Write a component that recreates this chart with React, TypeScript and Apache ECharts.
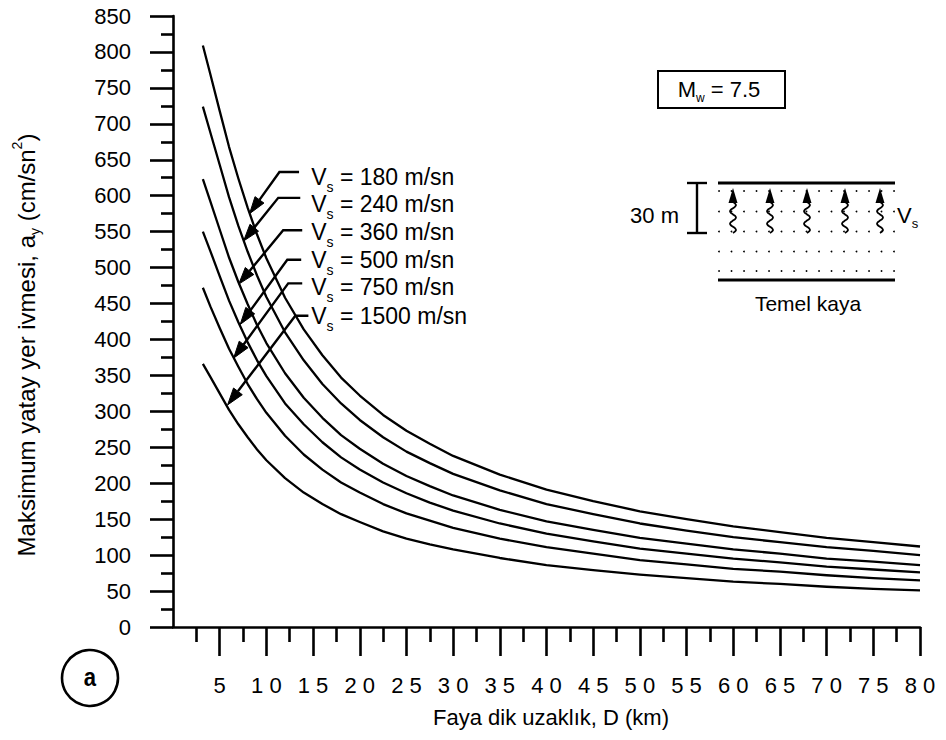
import React, { useEffect, useRef } from 'react';
import * as echarts from 'echarts';

// Distance to fault, D (km)
const distances = [3.2, 4, 5, 6, 7, 8, 9, 10, 12, 14, 16, 18, 20, 22.5, 25, 27.5, 30, 35, 40, 45, 50, 55, 60, 65, 70, 75, 80];
// Peak horizontal ground acceleration (cm/sn^2) for each Vs
const vs180 = [809, 769, 718, 668, 624, 583, 546, 513, 458, 414, 378, 347, 322, 295, 273, 255, 238, 212, 191, 175, 161, 150, 140, 132, 124, 118, 112];
const vs240 = [724, 688, 643, 598, 558, 522, 489, 459, 410, 371, 338, 311, 288, 264, 244, 228, 213, 190, 171, 157, 144, 134, 125, 118, 111, 106, 100];
const vs360 = [623, 592, 553, 514, 480, 449, 420, 395, 353, 319, 291, 267, 248, 227, 210, 196, 183, 163, 147, 135, 124, 116, 108, 102, 95, 91, 86];
const vs500 = [550, 523, 488, 454, 424, 396, 371, 349, 311, 282, 257, 236, 219, 201, 186, 173, 162, 144, 130, 119, 109, 102, 95, 90, 84, 80, 76];
const vs750 = [472, 446, 416, 387, 362, 338, 317, 298, 266, 240, 219, 201, 187, 171, 158, 148, 138, 123, 111, 102, 93, 87, 81, 77, 72, 68, 65];
const vs1500 = [366, 348, 325, 302, 282, 264, 247, 232, 207, 187, 171, 157, 146, 133, 123, 115, 108, 96, 86, 79, 73, 68, 63, 60, 56, 53, 51];

const seriesNames = ['180', '240', '360', '500', '750', '1500'];
const seriesValues = [vs180, vs240, vs360, vs500, vs750, vs1500];

const xTickValues = [5, 10, 15, 20, 25, 30, 35, 40, 45, 50, 55, 60, 65, 70, 75, 80];

// Annotation leaders (data coordinates): tip on curve, corner, horizontal segment
const annTipD = [8.2, 7.56, 7.04, 7.2, 6.49, 5.85];
const annTipA = [575, 537, 477, 421, 374, 309];
const annCornerD = [11.4, 11.27, 11.8, 12.24, 12.34, 13.1];
const annEndD = [13.5, 13.63, 13.84, 13.73, 13.84, 14.5];
const annSegA = [633, 597, 552, 511, 478, 433];
const annTextD = [14.8, 14.8, 14.8, 14.8, 14.8, 14.8];
const annTextA = [626, 588, 550, 511, 473, 432];

const FONT = "'Liberation Sans', Arial, Helvetica, sans-serif";

export default function App() {
  const ref = useRef<HTMLDivElement>(null);

  useEffect(() => {
    if (!ref.current) return;
    const chart = echarts.init(ref.current, null, { renderer: 'svg' });

    const series = seriesValues.map((vals, i) => ({
      name: seriesNames[i],
      type: 'line',
      data: distances.map((d, j) => [d, vals[j]]),
      showSymbol: false,
      smooth: false,
      lineStyle: { color: '#000', width: 2.3, join: 'round' },
      silent: true,
    }));

    const axisLineStyle = { color: '#000', width: 2.6 };

    chart.setOption({
      animation: false,
      backgroundColor: '#fff',
      textStyle: { fontFamily: FONT, color: '#000' },
      grid: { left: 173, right: 26, top: 16, bottom: 113, containLabel: false, outerBoundsMode: 'none' },
      xAxis: {
        type: 'value',
        min: 0,
        max: 80,
        interval: 5,
        axisLine: { show: true, onZero: false, lineStyle: axisLineStyle },
        axisTick: { show: true, inside: false, length: 29, lineStyle: axisLineStyle, customValues: xTickValues },
        minorTick: { show: true, splitNumber: 2, length: 15, lineStyle: axisLineStyle },
        axisLabel: {
          margin: 47,
          fontSize: 22,
          fontFamily: FONT,
          color: '#000',
          customValues: xTickValues,
          formatter: (v: number) => String(v).split('').join(' '),
        },
        splitLine: { show: false },
        minorSplitLine: { show: false },
      },
      yAxis: {
        type: 'value',
        min: 0,
        max: 850,
        interval: 50,
        axisLine: { show: true, lineStyle: axisLineStyle },
        axisTick: { show: true, inside: false, length: 23, lineStyle: axisLineStyle },
        minorTick: { show: true, splitNumber: 2, length: 12, lineStyle: axisLineStyle },
        axisLabel: { margin: 42, fontSize: 22, fontFamily: FONT, color: '#000' },
        splitLine: { show: false },
        minorSplitLine: { show: false },
      },
      series,
    });

    const toPx = (d: number, a: number) =>
      chart.convertToPixel({ xAxisIndex: 0, yAxisIndex: 0 }, [d, a]) as number[];

    const graphics: any[] = [];
    const black = '#000';

    // Leader arrows + labels
    seriesNames.forEach((nm, i) => {
      const tip = toPx(annTipD[i], annTipA[i]);
      const corner = toPx(annCornerD[i], annSegA[i]);
      const end = toPx(annEndD[i], annSegA[i]);
      const dx = tip[0] - corner[0];
      const dy = tip[1] - corner[1];
      const len = Math.sqrt(dx * dx + dy * dy);
      const ux = dx / len, uy = dy / len;
      const L = 17, W = 5.5;
      const bx = tip[0] - ux * L, by = tip[1] - uy * L;
      const nx = -uy, ny = ux;
      graphics.push({
        type: 'polyline',
        silent: true,
        shape: { points: [end, corner, [bx, by]] },
        style: { stroke: black, lineWidth: 2.4, fill: null },
      });
      graphics.push({
        type: 'polygon',
        silent: true,
        shape: { points: [tip, [bx + nx * W, by + ny * W], [bx - nx * W, by - ny * W]] },
        style: { fill: black, stroke: black, lineWidth: 1 },
      });
      const tp = toPx(annTextD[i], annTextA[i]);
      graphics.push({
        type: 'text',
        silent: true,
        x: tp[0],
        y: tp[1],
        style: {
          text: `{m|V}{s|s}{m| = ${nm} m/sn}`,
          align: 'left',
          verticalAlign: 'middle',
          fill: black,
          rich: {
            m: { fontSize: 23, fontFamily: FONT, lineHeight: 34, fill: black, verticalAlign: 'middle' },
            s: { fontSize: 14, fontFamily: FONT, lineHeight: 14, fill: black, verticalAlign: 'bottom' },
          },
        },
      });
    });

    // Y axis title (rotated)
    graphics.push({
      type: 'text',
      silent: true,
      x: 26,
      y: 345,
      rotation: Math.PI / 2,
      style: {
        text: '{m|Maksimum yatay yer ivmesi, a}{s|y}{m| (cm/sn}{p|2}{m|)}',
        align: 'center',
        verticalAlign: 'middle',
        fill: black,
        rich: {
          m: { fontSize: 24, fontFamily: FONT, lineHeight: 32, fill: black, verticalAlign: 'middle' },
          s: { fontSize: 14, fontFamily: FONT, lineHeight: 14, fill: black, verticalAlign: 'bottom' },
          p: { fontSize: 14, fontFamily: FONT, lineHeight: 14, fill: black, verticalAlign: 'top' },
        },
      },
    });

    // X axis title
    graphics.push({
      type: 'text',
      silent: true,
      x: 551,
      y: 717,
      style: {
        text: 'Faya dik uzaklık, D (km)',
        fontSize: 22,
        fontFamily: FONT,
        align: 'center',
        verticalAlign: 'middle',
        fill: black,
      },
    });

    // Circle "a"
    graphics.push({
      type: 'circle',
      silent: true,
      shape: { cx: 90, cy: 678, r: 28 },
      style: { fill: '#fff', stroke: black, lineWidth: 2.6 },
    });
    graphics.push({
      type: 'text',
      silent: true,
      x: 90,
      y: 677,
      scaleX: 0.85,
      style: {
        text: 'a',
        fontSize: 26,
        fontWeight: 'bold',
        fontFamily: FONT,
        align: 'center',
        verticalAlign: 'middle',
        fill: black,
      },
    });

    // Mw box
    graphics.push({
      type: 'rect',
      silent: true,
      shape: { x: 658, y: 71, width: 127, height: 37 },
      style: { fill: '#fff', stroke: black, lineWidth: 2 },
    });
    graphics.push({
      type: 'text',
      silent: true,
      x: 719,
      y: 89,
      style: {
        text: '{m|M}{s|w}{m| = 7.5}',
        align: 'center',
        verticalAlign: 'middle',
        fill: black,
        rich: {
          m: { fontSize: 22, fontFamily: FONT, lineHeight: 30, fill: black, verticalAlign: 'middle' },
          s: { fontSize: 12, fontFamily: FONT, lineHeight: 12, fill: black, verticalAlign: 'bottom' },
        },
      },
    });

    // Soil profile
    graphics.push({ type: 'line', silent: true, shape: { x1: 718, y1: 183, x2: 895, y2: 183 }, style: { stroke: black, lineWidth: 3 } });
    graphics.push({ type: 'line', silent: true, shape: { x1: 718, y1: 280, x2: 895, y2: 280 }, style: { stroke: black, lineWidth: 3 } });
    const dotRows = [191, 211.5, 231.5, 251.5, 271];
    dotRows.forEach((yy) => {
      for (let k = 0; k < 15; k++) {
        graphics.push({ type: 'circle', silent: true, shape: { cx: 719 + k * 12.5, cy: yy, r: 0.9 }, style: { fill: black } });
      }
    });
    // Bracket
    graphics.push({ type: 'line', silent: true, shape: { x1: 697, y1: 183, x2: 697, y2: 233 }, style: { stroke: black, lineWidth: 2.4 } });
    graphics.push({ type: 'line', silent: true, shape: { x1: 687, y1: 183, x2: 707, y2: 183 }, style: { stroke: black, lineWidth: 2.4 } });
    graphics.push({ type: 'line', silent: true, shape: { x1: 687, y1: 233, x2: 707, y2: 233 }, style: { stroke: black, lineWidth: 2.4 } });
    graphics.push({
      type: 'text',
      silent: true,
      x: 679,
      y: 215,
      style: { text: '30 m', fontSize: 22, fontFamily: FONT, align: 'right', verticalAlign: 'middle', fill: black },
    });
    // Wavy arrows
    const waveX = [733, 770, 807, 845, 880];
    waveX.forEach((x0) => {
      const pts: number[][] = [];
      const N = 20;
      for (let t = 0; t <= N; t++) {
        pts.push([x0 + 3 * Math.sin((t / N) * 2.5 * 2 * Math.PI), 202 + (t * 31) / N]);
      }
      graphics.push({ type: 'polyline', silent: true, shape: { points: pts, smooth: 0.4 }, style: { stroke: black, lineWidth: 1.8, fill: null } });
      graphics.push({
        type: 'polygon',
        silent: true,
        shape: { points: [[x0, 188], [x0 - 4.5, 203], [x0 + 4.5, 203]] },
        style: { fill: black },
      });
    });
    graphics.push({
      type: 'text',
      silent: true,
      x: 897,
      y: 215,
      style: {
        text: '{m|V}{s|s}',
        align: 'left',
        verticalAlign: 'middle',
        fill: black,
        rich: {
          m: { fontSize: 22, fontFamily: FONT, lineHeight: 30, fill: black, verticalAlign: 'middle' },
          s: { fontSize: 13, fontFamily: FONT, lineHeight: 13, fill: black, verticalAlign: 'bottom' },
        },
      },
    });
    graphics.push({
      type: 'text',
      silent: true,
      x: 808,
      y: 303,
      style: { text: 'Temel kaya', fontSize: 21, fontFamily: FONT, align: 'center', verticalAlign: 'middle', fill: black },
    });

    chart.setOption({ graphic: graphics });

    return () => {
      chart.dispose();
    };
  }, []);

  return <div ref={ref} style={{ position: 'fixed', left: 0, top: 0, width: 946, height: 740, background: '#fff' }} />;
}
